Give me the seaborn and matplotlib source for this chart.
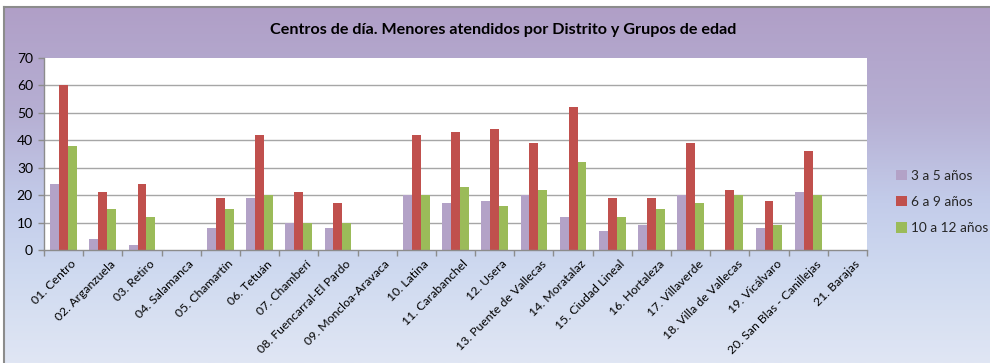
import numpy as np
import pandas as pd
import matplotlib
matplotlib.use("Agg")
import matplotlib.pyplot as plt
from matplotlib.colors import LinearSegmentedColormap
from matplotlib.ticker import MultipleLocator, FixedLocator
import seaborn as sns

distritos = [
    "01. Centro", "02. Arganzuela", "03. Retiro", "04. Salamanca", "05. Chamartín",
    "06. Tetuán", "07. Chamberí", "08. Fuencarral-El Pardo", "09. Moncloa-Aravaca",
    "10. Latina", "11. Carabanchel", "12. Usera", "13. Puente de Vallecas",
    "14. Moratalaz", "15. Ciudad Lineal", "16. Hortaleza", "17. Villaverde",
    "18. Villa de Vallecas", "19. Vicálvaro", "20. San Blas - Canillejas", "21. Barajas",
]
grupos = ["3 a 5 años", "6 a 9 años", "10 a 12 años"]
edad_3_5 = [24, 4, 2, 0, 8, 19, 10, 8, 0, 20, 17, 18, 20, 12, 7, 9, 20, 0, 8, 21, 0]
edad_6_9 = [60, 21, 24, 0, 19, 42, 21, 17, 0, 42, 43, 44, 39, 52, 19, 19, 39, 22, 18, 36, 0]
edad_10_12 = [38, 15, 12, 0, 15, 20, 10, 10, 0, 20, 23, 16, 22, 32, 12, 15, 17, 20, 9, 20, 0]
colores = ["#B3A2C7", "#C0504D", "#9BBB59"]

df = pd.DataFrame({
    "Distrito": distritos * 3,
    "Grupo": sum([[g] * len(distritos) for g in grupos], []),
    "Menores": edad_3_5 + edad_6_9 + edad_10_12,
})

sns.set_theme(style="white")
plt.rcParams["font.family"] = ["Lato", "DejaVu Sans"]

W, H = 990, 363
fig = plt.figure(figsize=(W / 100, H / 100), dpi=100)
fig.patch.set_facecolor("white")

# chart area with vertical gradient and a thin grey frame
bg = fig.add_axes([4 / W, 0, 1 - 4 / W, (H - 7) / H])
cmap = LinearSegmentedColormap.from_list(
    "fondo",
    [(0.0, "#B09FC7"), (0.30, "#B6AFD3"), (0.55, "#C3CCEA"),
     (0.75, "#CFDAF0"), (1.0, "#E0E6F4")],
)
grad = np.linspace(0, 1, 256).reshape(-1, 1)
bg.imshow(grad, aspect="auto", cmap=cmap, extent=[0, 1, 0, 1], origin="upper")
bg.set_xlim(0, 1)
bg.set_ylim(0, 1)
bg.set_xticks([])
bg.set_yticks([])
for side, sp in bg.spines.items():
    sp.set_visible(side in ("top", "left"))
    sp.set_color("#8C8C8C")
    sp.set_linewidth(1.5)

# plot area
x0, x1, y0, y1 = 44, 867, 58, 250
ax = fig.add_axes([x0 / W, 1 - y1 / H, (x1 - x0) / W, (y1 - y0) / H])
ax.set_facecolor("white")

sns.barplot(
    data=df, x="Distrito", y="Menores", hue="Grupo", hue_order=grupos,
    order=distritos, palette=colores, width=0.68, saturation=1,
    edgecolor="none", ax=ax, legend=True,
)

n = len(distritos)
ax.set_xlim(-0.5, n - 0.5)
ax.set_ylim(0, 70)
ax.yaxis.set_major_locator(MultipleLocator(10))
ax.set_axisbelow(True)
for yv in range(10, 70, 10):
    ax.axhline(yv, color="#A6A6A6", linewidth=1, zorder=0)
ax.set_xlabel("")
ax.set_ylabel("")

for side in ("top", "right"):
    ax.spines[side].set_visible(False)
for side in ("left", "bottom"):
    ax.spines[side].set_visible(True)
    ax.spines[side].set_color("#8C8C8C")
    ax.spines[side].set_linewidth(1)

ax.tick_params(axis="y", which="major", direction="out", length=4, width=1,
               color="#8C8C8C", labelsize=10, labelcolor="black", pad=4, left=True)
ax.set_xticks(range(n))
ax.set_xticklabels(distritos, rotation=45, ha="right", rotation_mode="anchor",
                   fontsize=8.8)
ax.tick_params(axis="x", which="major", length=0, pad=6, labelcolor="black")
ax.xaxis.set_minor_locator(FixedLocator(np.arange(-0.5, n, 1.0)))
ax.tick_params(axis="x", which="minor", direction="out", length=4, width=1,
               color="#8C8C8C", bottom=True)
for lbl in ax.get_xticklabels():
    lbl.set_transform(lbl.get_transform() + matplotlib.transforms.ScaledTranslation(
        7 / 100, 0, fig.dpi_scale_trans))

handles, labels = ax.get_legend_handles_labels()
ax.get_legend().remove()
fig.legend(handles, labels, loc="center left", bbox_to_anchor=(884 / W, 1 - 202 / H),
           frameon=False, fontsize=9.8, handlelength=0.8, handleheight=0.8,
           handletextpad=0.3, labelspacing=1.05)

fig.text(503 / W, 1 - 30 / H,
         "Centros de día. Menores atendidos por Distrito y Grupos de edad",
         ha="center", va="center", fontsize=11.6, fontweight="bold", color="black")

fig.savefig("out.png", dpi=100)
